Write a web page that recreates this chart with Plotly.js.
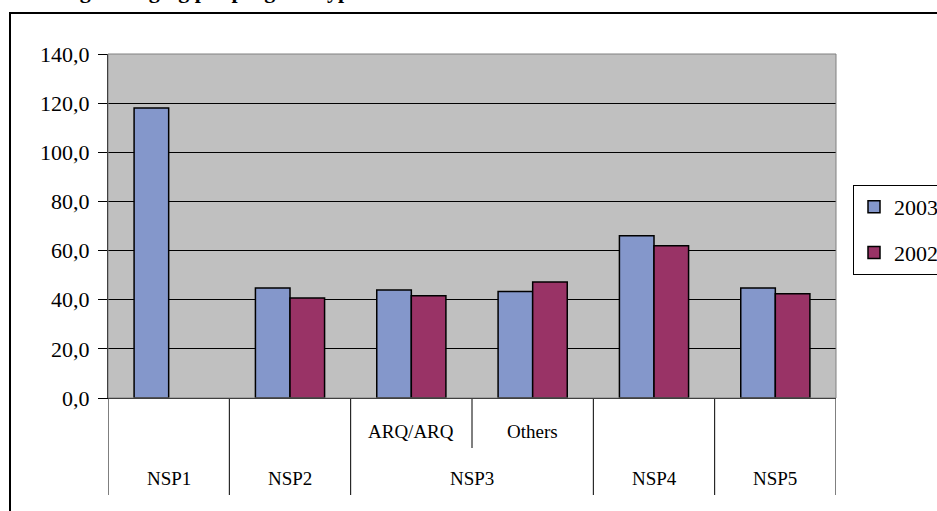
<!DOCTYPE html>
<html>
<head>
<meta charset="utf-8">
<script src="https://cdn.plot.ly/plotly-3.0.1.min.js"></script>
<style>
  html, body { margin: 0; padding: 0; background: #ffffff; }
  #chart { width: 937px; height: 511px; }
</style>
</head>
<body>
<div id="chart"></div>
<script>
// ---- data ----
const groups = ["NSP1", "NSP2", "NSP3", "NSP3", "NSP4", "NSP5"];
const subLabels = ["", "", "ARQ/ARQ", "Others", "", ""];
const series2003 = [118.0, 44.8, 44.0, 43.3, 66.0, 44.8];
const series2002 = [null, 40.7, 41.6, 47.2, 62.0, 42.4];
const seriesNames = ["2003", "2002"];
const yTicks = [0, 20, 40, 60, 80, 100, 120, 140];
const titleText = "Average charging per program type";

// ---- layout geometry (pixels) ----
const W = 937, H = 511;
const L = 108, R = 937 - 836, T = 54, B = 511 - 398;
const plotW = W - L - R, plotH = H - T - B;
const px2x = p => (p - L) / plotW;          // pixel x -> paper x
const py2y = p => (H - B - p) / plotH;      // pixel y -> paper y

const idx = groups.map((_, i) => i);
const serif = "Liberation Serif";

const traces = [
  {
    type: "bar", name: seriesNames[0], x: idx, y: series2003,
    marker: { color: "#8497CB", line: { color: "#000000", width: 1.5 } },
    legendgroup: "a", hoverinfo: "y"
  },
  {
    type: "bar", name: seriesNames[1], x: idx, y: series2002,
    marker: { color: "#993366", line: { color: "#000000", width: 1.5 } },
    legendgroup: "b", hoverinfo: "y"
  }
];

// category label annotations and divider shapes
const annotations = [];
const shapes = [];
const seen = {};
groups.forEach((g, i) => {
  if (!seen[g]) seen[g] = [];
  seen[g].push(i);
});
Object.keys(seen).forEach(g => {
  const ids = seen[g];
  const c = ids.reduce((a, b) => a + b, 0) / ids.length;
  annotations.push({
    x: c, xref: "x", y: py2y(478), yref: "paper",
    text: g, showarrow: false, xanchor: "center", yanchor: "middle",
    font: { family: serif, size: 19, color: "#000" }
  });
});
subLabels.forEach((s, i) => {
  if (s) {
    annotations.push({
      x: i, xref: "x", y: py2y(431), yref: "paper",
      text: s, showarrow: false, xanchor: "center", yanchor: "middle",
      font: { family: serif, size: 19, color: "#000" }
    });
  }
});
// dividers: group boundaries (full height), sub boundaries (short)
for (let i = 0; i <= groups.length; i++) {
  const b = i - 0.5;
  const isGroupBoundary = (i === 0 || i === groups.length || groups[i] !== groups[i - 1]);
  shapes.push({
    type: "line", xref: "x", yref: "paper",
    x0: b, x1: b, y0: 0, y1: isGroupBoundary ? py2y(495) : py2y(448),
    line: { color: "#000", width: 1 }
  });
}
// plot area border (gray)
shapes.push({
  type: "rect", xref: "paper", yref: "paper", x0: 0, x1: 1, y0: 0, y1: 1,
  line: { color: "#808080", width: 1 }, layer: "above"
});
// outer chart border
shapes.push({
  type: "rect", xref: "paper", yref: "paper",
  x0: px2x(10), x1: px2x(960), y0: py2y(540), y1: py2y(13),
  line: { color: "#000", width: 2 }
});
// cut-off title
annotations.push({
  x: px2x(22), xref: "paper", y: py2y(-9), yref: "paper",
  text: "<b>" + titleText + "</b>", showarrow: false,
  xanchor: "left", yanchor: "middle",
  font: { family: serif, size: 22, color: "#000" }
});

const layout = {
  width: W, height: H,
  font: { family: serif, color: "#000" },
  margin: { l: L, r: R, t: T, b: B, pad: 0, autoexpand: false },
  paper_bgcolor: "#ffffff",
  plot_bgcolor: "#C0C0C0",
  separators: ", ",
  barmode: "group",
  bargap: 0.43,
  bargroupgap: 0,
  showlegend: true,
  legend: {
    xref: "container", yref: "container",
    x: 853 / W, xanchor: "left", y: 1 - 185 / H, yanchor: "top",
    bordercolor: "#000", borderwidth: 1, bgcolor: "#ffffff",
    font: { family: serif, size: 22, color: "#000" },
    traceorder: "grouped", tracegroupgap: 14,
    itemwidth: 30
  },
  xaxis: {
    type: "linear", range: [-0.5, groups.length - 0.5],
    showticklabels: false, ticks: "", showgrid: false, zeroline: false,
    showline: true, linecolor: "#000", linewidth: 1, fixedrange: true
  },
  yaxis: {
    range: [0, 140], tickvals: yTicks, tickformat: ".1f",
    ticks: "outside", ticklen: 9, tickcolor: "#000", tickwidth: 1,
    ticklabelstandoff: 4,
    showgrid: true, gridcolor: "#000", gridwidth: 1,
    zeroline: false, showline: true, linecolor: "#000", linewidth: 1,
    tickfont: { family: serif, size: 22, color: "#000" },
    fixedrange: true
  },
  shapes: shapes,
  annotations: annotations
};

Plotly.newPlot("chart", traces, layout, { displayModeBar: false, staticPlot: true });
</script>
</body>
</html>
